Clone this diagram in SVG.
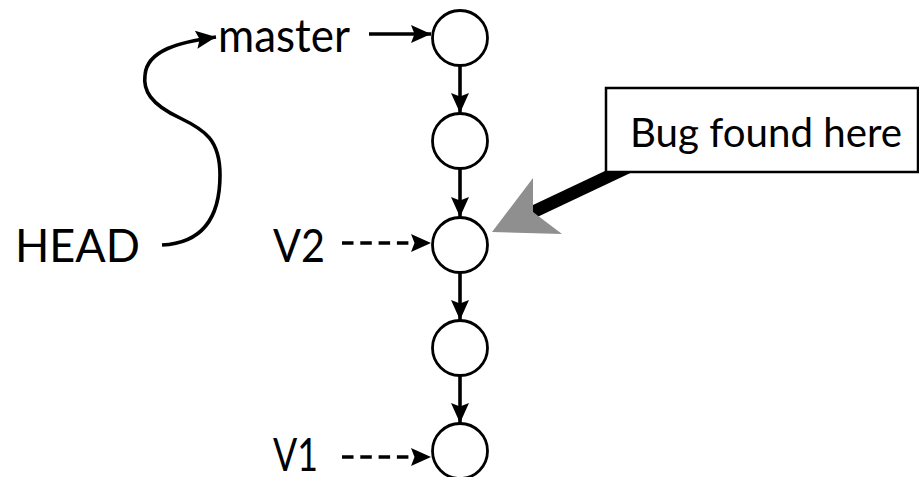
<svg xmlns="http://www.w3.org/2000/svg" width="919" height="477" viewBox="0 0 919 477">
<style>
.lbl{font-family:"Lato","Open Sans","DejaVu Sans",sans-serif;fill:#000}
.big{font-size:47px}
.cmt{font-size:40px}
.commit{fill:#fff;stroke:#000;stroke-width:2.8}
.edge{fill:none;stroke:#000;stroke-width:3.6}
.dash{fill:none;stroke:#000;stroke-width:3.6;stroke-dasharray:11.5 6.8}
</style>
<defs>
<marker id="ah" markerUnits="userSpaceOnUse" viewBox="0 0 20 18" markerWidth="20" markerHeight="18" refX="20" refY="9" orient="auto">
<path d="M0,0 L20,9 L0,18 L3.5,9 Z" fill="#000"/>
</marker>
</defs>
<rect width="919" height="477" fill="#fff"/>
<g id="connectors">
<path class="edge" d="M162,245 C205,243 220,215 220,175 C220,140 205,130 180,118 C150,104 143,90 145,75 C147,50 180,42 216,37" stroke-width="4" marker-end="url(#ah)"/>
<line class="edge" x1="369" y1="34" x2="431" y2="34" marker-end="url(#ah)"/>
<line class="edge" x1="460" y1="66" x2="460" y2="113" marker-end="url(#ah)"/>
<line class="edge" x1="460" y1="169" x2="460" y2="217" marker-end="url(#ah)"/>
<line class="edge" x1="460" y1="273" x2="460" y2="320" marker-end="url(#ah)"/>
<line class="edge" x1="460" y1="376" x2="460" y2="423" marker-end="url(#ah)"/>
<line class="dash" x1="342" y1="243" x2="431" y2="243" marker-end="url(#ah)"/>
<line class="dash" x1="342" y1="457" x2="431" y2="457" marker-end="url(#ah)"/>
</g>
<g id="callout-pointer">
<line x1="533" y1="212" x2="660" y2="152" stroke="#000" stroke-width="12.5"/>
<polygon points="492,232 533,178 533,212 562,234" fill="#8f8f8f"/>
</g>
<g id="c1"><circle class="commit" cx="460" cy="38" r="27.5"/></g>
<g id="c2"><circle class="commit" cx="460" cy="141" r="27.5"/></g>
<g id="c3"><circle class="commit" cx="460" cy="245" r="27.5"/></g>
<g id="c4"><circle class="commit" cx="460" cy="348" r="27.5"/></g>
<g id="c5"><circle class="commit" cx="460" cy="451" r="27.5"/></g>
<g id="master"><text class="lbl big" x="218" y="52" textLength="132" lengthAdjust="spacingAndGlyphs">master</text></g>
<g id="head"><text class="lbl big" x="15" y="262" textLength="125" lengthAdjust="spacingAndGlyphs">HEAD</text></g>
<g id="v2"><text class="lbl big" x="273" y="262" textLength="52" lengthAdjust="spacingAndGlyphs">V2</text></g>
<g id="v1"><text class="lbl big" x="273" y="471" textLength="45" lengthAdjust="spacingAndGlyphs">V1</text></g>
<g id="callout">
<rect x="606" y="88" width="312" height="84" fill="#fff" stroke="#000" stroke-width="2.5"/>
<text class="lbl cmt" x="630" y="147" textLength="272" lengthAdjust="spacingAndGlyphs">Bug found here</text>
</g>
</svg>
